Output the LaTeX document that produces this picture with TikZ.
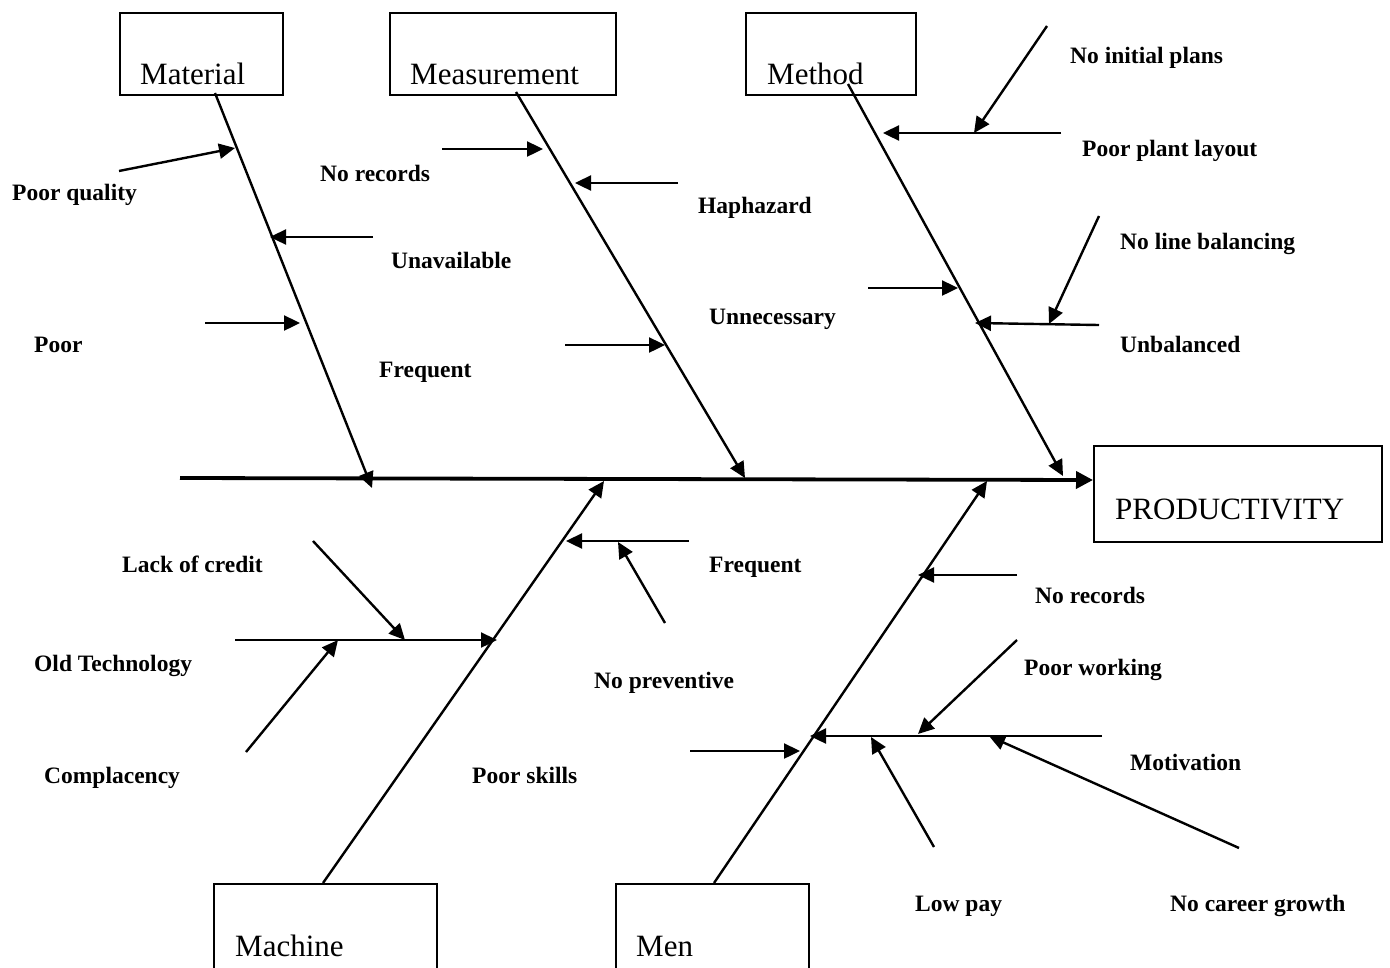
\documentclass[tikz,border=0pt]{standalone}
\usepackage{fontspec}
\setmainfont{Liberation Serif}
\usetikzlibrary{arrows.meta}
\begin{document}
\begin{tikzpicture}[x=1pt,y=-1pt,
  cbox/.style={draw, line width=1.5pt, inner sep=0pt, anchor=north west},
  btext/.style={font=\fontsize{31}{35}\selectfont, inner sep=0pt, anchor=base west},
  lbl/.style={font=\bfseries\fontsize{23.5}{27}\selectfont, inner sep=0pt, anchor=west,
              text height=16pt, text depth=5pt, yshift=-3pt},
  cause/.style={line width=2.4pt, -{Triangle[length=16pt,width=15pt]}},
  spine/.style={line width=3.8pt, -{Triangle[length=17pt,width=17pt]}}]

\useasboundingbox (0,0) rectangle (1390,967);

% category boxes and the effect box
\node[cbox, minimum width=163pt, minimum height=82pt] (matbox) at (119,12) {};
\node[cbox, minimum width=226pt, minimum height=82pt] (measbox) at (389,12) {};
\node[cbox, minimum width=170pt, minimum height=82pt] (methbox) at (745,12) {};
\node[cbox, minimum width=288pt, minimum height=96pt] (prodbox) at (1093,445) {};
\node[cbox, minimum width=223pt, minimum height=90pt] (machbox) at (213,883) {};
\node[cbox, minimum width=193pt, minimum height=90pt] (menbox) at (615,883) {};

\node[btext] (tmat) at (140,84) {Material};
\node[btext] (tmeas) at (410,84) {Measurement};
\node[btext] (tmeth) at (767,84) {Method};
\node[btext] (tprod) at (1115,519) {PRODUCTIVITY};
\node[btext] (tmach) at (235,956) {Machine};
\node[btext] (tmen) at (636,956) {Men};

% spine
\coordinate (sp0) at (180,478);
\coordinate (sp1) at (prodbox.west |- 0,480);
\draw[spine] (sp0) -- (sp1);

% main bones
\coordinate (matA) at (215,93);   \coordinate (matB) at (372,488);
\coordinate (measA) at (516,92);  \coordinate (measB) at (745,478);
\coordinate (methA) at (848,84);  \coordinate (methB) at (1063,476);
\coordinate (machA) at (323,883); \coordinate (machB) at (604,481);
\coordinate (menA) at (714,883);  \coordinate (menB) at (987,481);
\draw[cause] (matA) -- (matB);
\draw[cause] (measA) -- (measB);
\draw[cause] (methA) -- (methB);
\draw[cause] (machA) -- (machB);
\draw[cause] (menA) -- (menB);

% Material causes
\coordinate (m1a) at (119,171); \coordinate (m1b) at (235,148);
\coordinate (m2a) at (373,237); \coordinate (m2b) at (270,237);
\coordinate (m3a) at (205,323); \coordinate (m3b) at (300,323);
\draw[cause] (m1a) -- (m1b);
\draw[cause] (m2a) -- (m2b);
\draw[cause] (m3a) -- (m3b);

% Measurement causes
\coordinate (s1a) at (442,149); \coordinate (s1b) at (543,149);
\coordinate (s2a) at (678,183); \coordinate (s2b) at (575,183);
\coordinate (s3a) at (565,345); \coordinate (s3b) at (665,345);
\draw[cause] (s1a) -- (s1b);
\draw[cause] (s2a) -- (s2b);
\draw[cause] (s3a) -- (s3b);

% Method causes
\coordinate (t1a) at (1061,133); \coordinate (t1b) at (883,133);
\coordinate (t2a) at (1047,26);  \coordinate (t2b) at (974,133);
\coordinate (t3a) at (868,288);  \coordinate (t3b) at (958,288);
\coordinate (t4a) at (1099,325); \coordinate (t4b) at (975,323);
\coordinate (t5a) at (1099,216); \coordinate (t5b) at (1049,324);
\draw[cause] (t1a) -- (t1b);
\draw[cause] (t2a) -- (t2b);
\draw[cause] (t3a) -- (t3b);
\draw[cause] (t4a) -- (t4b);
\draw[cause] (t5a) -- (t5b);

% Machine causes
\coordinate (c1a) at (689,541); \coordinate (c1b) at (566,541);
\coordinate (c2a) at (665,623); \coordinate (c2b) at (618,542);
\coordinate (c3a) at (235,640); \coordinate (c3b) at (497,640);
\coordinate (c4a) at (313,541); \coordinate (c4b) at (405,640);
\coordinate (c5a) at (246,752); \coordinate (c5b) at (338,640);
\coordinate (c6a) at (690,751); \coordinate (c6b) at (800,751);
\draw[cause] (c1a) -- (c1b);
\draw[cause] (c2a) -- (c2b);
\draw[cause] (c3a) -- (c3b);
\draw[cause] (c4a) -- (c4b);
\draw[cause] (c5a) -- (c5b);
\draw[cause] (c6a) -- (c6b);

% Men causes
\coordinate (n1a) at (1017,575); \coordinate (n1b) at (918,575);
\coordinate (n2a) at (1102,736); \coordinate (n2b) at (810,736);
\coordinate (n3a) at (1017,640); \coordinate (n3b) at (918,734);
\coordinate (n4a) at (934,847);  \coordinate (n4b) at (871,737);
\coordinate (n5a) at (1239,848); \coordinate (n5b) at (989,736);
\draw[cause] (n1a) -- (n1b);
\draw[cause] (n2a) -- (n2b);
\draw[cause] (n3a) -- (n3b);
\draw[cause] (n4a) -- (n4b);
\draw[cause] (n5a) -- (n5b);

% labels
\node[lbl] (lpq) at (12,192) {Poor quality};
\node[lbl] (lnr1) at (320,173) {No records};
\node[lbl] (lhap) at (698,205) {Haphazard};
\node[lbl] (luna) at (391,260) {Unavailable};
\node[lbl] (lunn) at (709,316) {Unnecessary};
\node[lbl] (lpoor) at (34,344) {Poor};
\node[lbl] (lfr1) at (379,369) {Frequent};
\node[lbl] (lnip) at (1070,55) {No initial plans};
\node[lbl] (lppl) at (1082,148) {Poor plant layout};
\node[lbl] (lnlb) at (1120,241) {No line balancing};
\node[lbl] (lunb) at (1120,344) {Unbalanced};
\node[lbl] (llc) at (122,564) {Lack of credit};
\node[lbl] (lot) at (34,663) {Old Technology};
\node[lbl] (lcom) at (44,775) {Complacency};
\node[lbl] (lfr2) at (709,564) {Frequent};
\node[lbl] (lnp) at (594,680) {No preventive};
\node[lbl] (lps) at (472,775) {Poor skills};
\node[lbl] (lnr2) at (1035,595) {No records};
\node[lbl] (lpw) at (1024,667) {Poor working};
\node[lbl] (lmot) at (1130,762) {Motivation};
\node[lbl] (llp) at (915,903) {Low pay};
\node[lbl] (lncg) at (1170,903) {No career growth};
\end{tikzpicture}
\end{document}
